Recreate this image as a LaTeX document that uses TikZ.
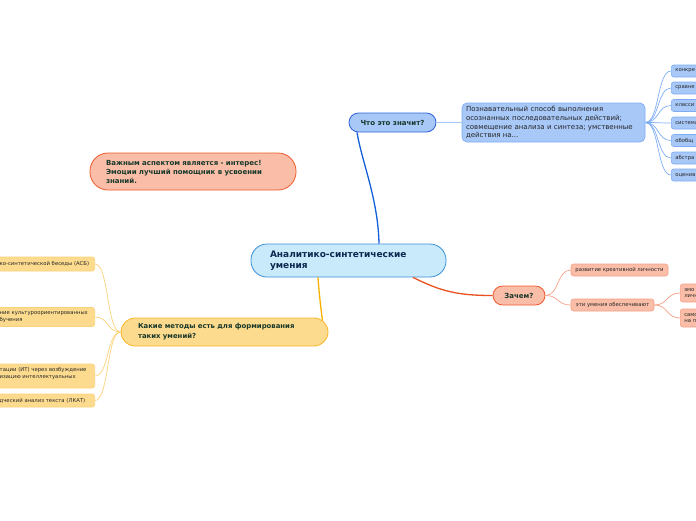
\documentclass[tikz,border=0pt]{standalone}
\usepackage{fontspec}
\setmainfont{DejaVu Sans}
\usetikzlibrary{calc}
\definecolor{cenfill}{HTML}{C8EAFB}
\definecolor{cenline}{HTML}{3B8FD6}
\definecolor{centext}{HTML}{0E2850}
\definecolor{bfill}{HTML}{A8C8F8}
\definecolor{bline}{HTML}{2D62D8}
\definecolor{blight}{HTML}{7EADF5}
\definecolor{bconn}{HTML}{1460D8}
\definecolor{ofill}{HTML}{F9BDA8}
\definecolor{oline}{HTML}{EE5A2A}
\definecolor{olight}{HTML}{F6A088}
\definecolor{oconn}{HTML}{E8501E}
\definecolor{yfill}{HTML}{FDDB8E}
\definecolor{yline}{HTML}{F8B62A}
\definecolor{ylight}{HTML}{FAD27A}
\definecolor{yconn}{HTML}{F8B000}
\definecolor{lbltext}{HTML}{17382A}
\begin{document}
\begin{tikzpicture}[x=1pt,y=-1pt,
  mainbox/.style={draw=cenline, fill=cenfill, line width=0.8pt, rounded corners=16pt,
    minimum height=33pt, text width=157pt, inner xsep=19pt, inner ysep=0pt, align=left,
    font=\fontsize{9}{11}\selectfont\bfseries, text=centext},
  topicbox/.style={line width=0.8pt, inner ysep=0pt, align=left,
    font=\fontsize{7}{9.5}\selectfont\bfseries, text=lbltext},
  smallbox/.style={line width=0.6pt, rounded corners=2.5pt, inner ysep=0pt, inner xsep=4pt,
    align=left, font=\fontsize{5.3}{6.8}\selectfont, text=black!85},
  bsmall/.style={smallbox, draw=blight, fill=bfill, minimum height=12pt, text width=80pt, anchor=west},
  osmall/.style={smallbox, draw=olight, fill=ofill},
  ysmall/.style={smallbox, draw=ylight, fill=yfill, text width=93pt, inner xsep=2pt, anchor=east},
  mainconn/.style={line width=1.3pt},
  subconn/.style={line width=0.7pt}
]
\useasboundingbox (0,0) rectangle (696,520);
\clip (0,0) rectangle (696,520);

% central
\node[mainbox] (cen) at (348.5,260.5) {Аналитико-синтетические\\умения};

% blue branch
\node[topicbox, draw=bline, fill=bfill, rounded corners=9.5pt, minimum width=87pt,
  minimum height=19pt, align=center] (what) at (392.5,122.5) {Что это значит?};
\node[draw=blight, fill=bfill, line width=0.7pt, rounded corners=5pt, text width=175pt,
  inner xsep=4pt, inner ysep=0pt, minimum height=39pt, align=left,
  font=\fontsize{7}{8.7}\selectfont, text=black!85] (desc) at (553.5,122.5)
  {Познавательный способ выполнения\\осознанных последовательных действий;\\совмещение анализа и синтеза; умственные\\действия на...};
\node[bsmall] (b1) at (671,71) {конкре};
\node[bsmall] (b2) at (671,88) {сравне};
\node[bsmall] (b3) at (671,105.5) {класси};
\node[bsmall] (b4) at (671,123) {система};
\node[bsmall] (b5) at (671,140.5) {обобщ};
\node[bsmall] (b6) at (671,158) {абстра};
\node[bsmall] (b7) at (671,175) {оценив};

% orange branch
\node[topicbox, draw=oline, fill=ofill, rounded corners=9.5pt, minimum width=52pt,
  minimum height=19pt, align=center] (why) at (519,295.5) {Зачем?};
\node[osmall, minimum width=97pt, minimum height=12pt, align=center] (o1) at (619.5,270) {развитие креативной личности};
\node[osmall, minimum width=83pt, minimum height=12pt, align=center] (o2) at (612.5,305) {эти умения обеспечивают};
\node[osmall, anchor=west, text width=80pt, minimum height=18pt] (o3) at (680,293) {эмо\\личн};
\node[osmall, anchor=west, text width=80pt, minimum height=18pt] (o4) at (680,318) {само\\на п};

% note
\node[topicbox, draw=oline, fill=ofill, rounded corners=18pt, text width=174pt,
  inner xsep=16pt, minimum height=37pt, font=\fontsize{7}{9}\selectfont\bfseries] (note) at (193,171.5)
  {Важным аспектом является - интерес!\\Эмоции лучший помощник в усвоении\\знаний.};

% yellow branch
\node[topicbox, draw=yline, fill=yfill, rounded corners=14pt, text width=173pt,
  inner xsep=17pt, minimum height=28pt, font=\fontsize{6.9}{10}\selectfont\bfseries] (meth) at (224.5,332)
  {Какие методы есть для формирования\\таких умений?};
\node[ysmall, minimum height=14pt] (y1) at (95,264) {ко-синтетической беседы (АСБ)};
\node[ysmall, minimum height=19pt] (y2) at (95,317) {ние культуроориентированных\\бучения};
\node[ysmall, minimum height=24pt] (y3) at (95,376) {тации (ИТ) через возбуждение\\изацию интеллектуальных\\\mbox{}};
\node[ysmall, minimum height=13pt] (y4) at (95,400.5) {дческий анализ текста (ЛКАТ)};

% connectors
\draw[mainconn, bconn] ([xshift=30.5pt]cen.north) .. controls +(-1,-45) and +(5,30) .. ([xshift=-35.5pt]what.south);
\draw[line width=1pt, blight!70] (what.east) -- (desc.west);
\foreach \c in {b1,b2,b3,b4,b5,b6,b7}
  \draw[subconn, blight] (desc.east) .. controls +(14,0) and +(-14,0) .. (\c.west);

\draw[mainconn, oconn] ([xshift=64.5pt]cen.south) .. controls +(28,14) and +(-35,0) .. (why.west);
\foreach \c in {o1,o2}
  \draw[subconn, olight] (why.east) .. controls +(14,0) and +(-14,0) .. (\c.west);
\foreach \c in {o3,o4}
  \draw[subconn, olight] (o2.east) .. controls +(14,0) and +(-14,0) .. (\c.west);

\draw[mainconn, yconn] ([xshift=-30.5pt]cen.south) .. controls +(1,15) and +(-2,-15) .. ([xshift=98pt,yshift=-3pt]meth.north);
\foreach \c in {y1,y2,y3,y4}
  \draw[subconn, ylight] (meth.west) .. controls +(-14,0) and +(14,0) .. (\c.east);
\end{tikzpicture}
\end{document}
